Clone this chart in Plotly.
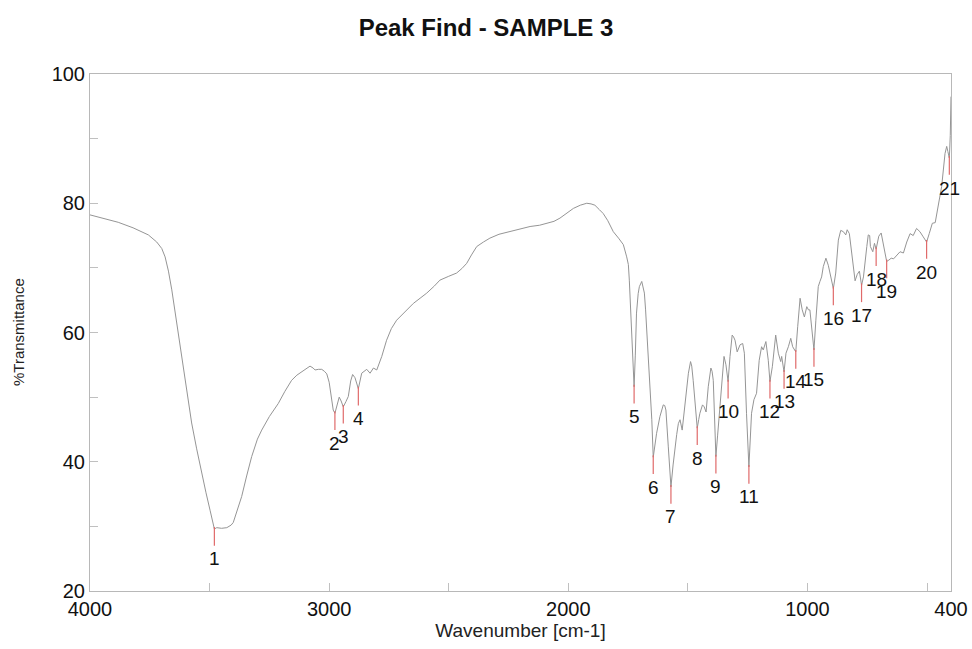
import numpy as np
import plotly.graph_objects as go

# Spectrum trace (wavenumber cm-1, %T)
wavenumber = [4000, 3940, 3882, 3820, 3756, 3721, 3700, 3686, 3672, 3658, 3637, 3617, 3596, 3575, 3554,
              3533, 3515, 3498, 3480, 3470, 3450, 3428, 3410, 3401, 3385, 3366, 3345, 3324, 3300, 3282,
              3250, 3213, 3185, 3157, 3135, 3115, 3095, 3080, 3067, 3059, 3045, 3031, 3020, 3010, 3000,
              2990, 2983, 2976, 2967, 2958, 2950, 2941, 2930, 2920, 2910, 2902, 2892, 2878, 2864, 2850,
              2843, 2829, 2815, 2801, 2790, 2780, 2760, 2740, 2718, 2680, 2648, 2620, 2592, 2560, 2537,
              2500, 2467, 2445, 2425, 2405, 2383, 2355, 2328, 2290, 2244, 2200, 2160, 2120, 2091, 2060,
              2035, 2005, 1979, 1950, 1923, 1905, 1889, 1870, 1854, 1835, 1812, 1790, 1770, 1756, 1749,
              1745, 1740, 1735, 1730, 1725, 1720, 1715, 1708, 1703, 1693, 1682, 1677, 1672, 1665, 1658,
              1651, 1645, 1638, 1631, 1617, 1603, 1597, 1592, 1582, 1571, 1562, 1554, 1547, 1540, 1533,
              1524, 1518, 1512, 1505, 1498, 1489, 1484, 1478, 1470, 1461, 1455, 1450, 1439, 1432, 1424,
              1415, 1404, 1399, 1394, 1389, 1383, 1376, 1369, 1359, 1349, 1341, 1332, 1324, 1315, 1309,
              1303, 1294, 1282, 1271, 1264, 1255, 1245, 1234, 1224, 1213, 1202, 1192, 1185, 1174, 1164,
              1157, 1147, 1133, 1122, 1112, 1108, 1098, 1090, 1080, 1070, 1062, 1049, 1041, 1031, 1022,
              1013, 1003, 996, 990, 983, 973, 965, 955, 948, 941, 934, 923, 913, 903, 892,
              882, 871, 861, 850, 840, 834, 825, 811, 801, 792, 783, 774, 766, 752, 746,
              740, 737, 727, 720, 713, 702, 692, 682, 669, 660, 650, 640, 627, 613, 599,
              585, 571, 558, 544, 530, 516, 502, 491, 478, 466, 453, 439, 425, 418, 413,
              407, 403, 400]
transmittance = [78.2, 77.6, 77.05, 76.2, 75.1, 74.0, 73.0, 71.7, 69.5, 66.6, 61.5, 56.3, 51.0, 46.0, 42.0,
                 38.2, 35.2, 32.5, 29.6, 29.8, 29.7, 29.8, 30.2, 30.6, 32.5, 34.6, 37.8, 40.8, 43.5, 44.9,
                 47.0, 49.0, 50.9, 52.6, 53.4, 53.9, 54.5, 54.8, 54.5, 54.2, 54.3, 54.3, 54.0, 53.6, 52.3,
                 49.5, 48.0, 47.5, 48.8, 50.0, 49.4, 48.5, 49.3, 50.1, 52.5, 53.5, 53.0, 51.3, 53.7, 54.2,
                 54.3, 53.7, 54.5, 54.2, 55.2, 56.3, 58.8, 60.6, 61.9, 63.3, 64.5, 65.3, 66.1, 67.2, 68.1,
                 68.7, 69.2, 69.9, 70.7, 72.0, 73.3, 74.0, 74.6, 75.2, 75.6, 76.0, 76.4, 76.6, 76.9, 77.2,
                 77.7, 78.5, 79.2, 79.7, 80.0, 79.9, 79.7, 79.0, 78.4, 77.3, 75.6, 74.6, 73.6, 71.7, 70.5,
                 68.1, 64.5, 60.4, 55.5, 51.6, 56.5, 63.0, 66.0, 67.1, 67.9, 66.1, 63.5, 60.4, 56.5, 52.6,
                 46.5, 40.7, 42.8, 44.4, 47.0, 48.8, 48.7, 48.0, 42.3, 36.1, 39.5, 42.3, 44.2, 45.9, 46.5,
                 44.9, 47.0, 49.6, 51.8, 53.7, 55.5, 54.8, 52.6, 48.5, 45.2, 46.5, 47.5, 48.8, 48.5, 47.7,
                 51.6, 54.5, 54.0, 52.6, 46.5, 40.8, 44.0, 47.5, 52.6, 56.3, 55.0, 52.4, 56.3, 59.6, 59.3,
                 58.8, 57.0, 58.1, 58.3, 56.8, 47.5, 39.2, 47.5, 49.6, 50.6, 55.7, 57.8, 57.3, 58.6, 55.7,
                 52.4, 54.7, 59.6, 56.8, 55.5, 56.3, 53.9, 56.8, 57.8, 59.1, 57.8, 57.0, 60.9, 65.3, 63.5,
                 62.4, 64.0, 63.5, 63.5, 60.9, 57.3, 61.9, 67.1, 67.9, 68.6, 70.2, 71.5, 70.4, 68.6, 66.8,
                 69.2, 74.3, 75.8, 75.6, 75.1, 75.9, 75.3, 71.2, 68.0, 69.0, 69.5, 67.3, 68.6, 73.3, 75.1,
                 75.0, 73.3, 72.5, 73.8, 72.9, 74.9, 75.4, 73.3, 71.0, 71.2, 71.5, 71.4, 72.0, 72.5, 72.3,
                 74.0, 75.3, 75.0, 76.1, 75.6, 74.8, 74.0, 75.3, 76.9, 77.0, 80.0, 82.6, 87.7, 88.8, 88.0,
                 87.0, 90.5, 96.5]

# Picked peaks (wavenumber) and their labels
peak_wn = [3480, 2976, 2941, 2878, 1725, 1645, 1571, 1461, 1383, 1332, 1245,
           1157, 1098, 1049, 973, 892, 774, 713, 669, 502, 407]
peak_labels = [str(i) for i in range(1, 22)]

x_tick_vals = [4000, 3000, 2000, 1000, 400]
x_tick_text = ["4000", "3000", "2000", "1000", "400"]
x_minor_vals = [3500, 2500, 1500, 500]
y_tick_vals = [20, 40, 60, 80, 100]
y_minor_vals = [30, 50, 70, 90]

wn_arr = np.array(wavenumber, dtype=float)
t_arr = np.array(transmittance, dtype=float)
peak_t = np.interp(peak_wn, wn_arr[::-1], t_arr[::-1])

FONT = "Liberation Sans, Arial, Helvetica, sans-serif"

fig = go.Figure()
fig.add_trace(go.Scatter(x=wavenumber, y=transmittance, mode="lines",
                         line=dict(color="#959595", width=1), hoverinfo="skip",
                         showlegend=False))

mx, my = [], []
for w, t in zip(peak_wn, peak_t):
    mx += [w, w, None]
    my += [t + 0.3, t - 2.6, None]
fig.add_trace(go.Scatter(x=mx, y=my, mode="lines",
                         line=dict(color="#e06a6a", width=1.2), hoverinfo="skip",
                         showlegend=False))

for w, t, lab in zip(peak_wn, peak_t, peak_labels):
    fig.add_annotation(x=w, y=t, text=lab, showarrow=False, yshift=-30,
                       xanchor="center", yanchor="middle",
                       font=dict(family=FONT, size=19, color="#111111"))

fig.add_annotation(xref="paper", yref="paper", x=-0.083, y=0.5, text="%Transmittance",
                   textangle=-90, showarrow=False, xanchor="center", yanchor="middle",
                   font=dict(family=FONT, size=15, color="#222222"))

axis_common = dict(showgrid=False, zeroline=False, showline=True, mirror=True,
                   linecolor="#b8b8b8", linewidth=1, ticks="inside", ticklen=8,
                   tickcolor="#c0c0c0", automargin=False,
                   tickfont=dict(family=FONT, size=20, color="#111111"))

fig.update_xaxes(range=[4000, 400], tickmode="array", tickvals=x_tick_vals,
                 ticktext=x_tick_text,
                 minor=dict(tickmode="array", tickvals=x_minor_vals, ticks="inside",
                            ticklen=8, tickcolor="#c0c0c0"),
                 title=dict(text="Wavenumber [cm-1]", standoff=3,
                            font=dict(family=FONT, size=19, color="#222222")),
                 **axis_common)
fig.update_yaxes(range=[20, 100], tickmode="array", tickvals=y_tick_vals,
                 minor=dict(tickmode="array", tickvals=y_minor_vals, ticks="inside",
                            ticklen=8, tickcolor="#c0c0c0"),
                 **axis_common)

fig.update_layout(
    width=972, height=649,
    margin=dict(l=90, r=21, t=74, b=58, autoexpand=False),
    paper_bgcolor="white", plot_bgcolor="white",
    title=dict(text="<b>Peak Find - SAMPLE 3</b>", x=0.5, xref="container", xanchor="center",
               y=1 - 28 / 649, yref="container", yanchor="middle",
               font=dict(family=FONT, size=24, color="#111111")),
    showlegend=False,
)

fig.write_html("out.html")
